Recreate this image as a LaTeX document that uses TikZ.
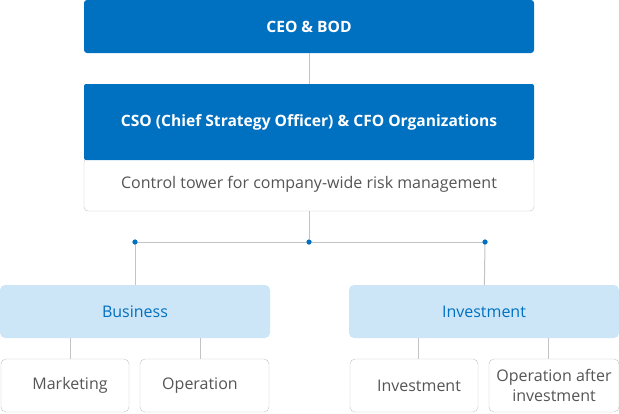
\documentclass[tikz,border=0pt]{standalone}
\usepackage{fontspec}
\setmainfont{Open Sans}
\usetikzlibrary{positioning}
\definecolor{orgblue}{RGB}{0,112,192}
\definecolor{orglight}{RGB}{204,230,247}
\definecolor{orggray}{RGB}{195,195,195}
\definecolor{orgtext}{RGB}{85,85,85}

\begin{document}
\begin{tikzpicture}[x=1pt, y=-1pt,
  every node/.style={font=\fontsize{16}{19}\selectfont},
  head/.style={rectangle, fill=orgblue, text=white,
               font=\bfseries\fontsize{15.6}{18}\selectfont, minimum width=450pt,
               minimum height=53pt, rounded corners=3pt, inner sep=0pt},
  note/.style={rectangle, draw=orggray, fill=white, text=orgtext,
               minimum width=450pt, minimum height=53pt,
               rounded corners=4pt, inner sep=0pt},
  unit/.style={rectangle, fill=orglight, text=orgblue, minimum width=270pt,
               minimum height=53pt, rounded corners=5pt, inner sep=0pt},
  leaf/.style={rectangle, draw=orggray, fill=white, text=orgtext,
               minimum width=128pt, minimum height=53pt, align=center,
               rounded corners=5pt, inner sep=0pt,
               font=\fontsize{16}{20}\selectfont},
  link/.style={draw=orggray, line width=1pt},
  dot/.style={circle, fill=orgblue, minimum size=5pt, inner sep=0pt},
]
\useasboundingbox (0,0) rectangle (619,413);

% Top management
\node[head] (ceo)  at (309,26.5) {CEO \& BOD};
\node[note] (ctrl) at (309,184.5) {Control tower for company-wide risk management};
\node[head, minimum height=76pt, rounded corners=2pt] (cso) at (309,122)
     {CSO (Chief Strategy Officer) \& CFO Organizations};

% Junctions
\node[dot] (jc) at (309,242) {};
\node[dot] (jl) at (135,242) {};
\node[dot] (jr) at (485,242) {};

% Divisions
\node[unit] (bus) at (135,311.5) {Business};
\node[unit] (inv) at (484,311.5) {Investment};

% Functions
\node[leaf]                      (mkt)  at (65,385.5)    {\hspace*{10pt}Marketing};
\node[leaf, minimum width=129pt] (ops)  at (204.5,385.5) {Operation\hspace*{9pt}};
\node[leaf]                      (invf) at (414,385.5)   {\hspace*{10pt}Investment};
\node[leaf, minimum width=130pt] (post) at (554,385.5)   {Operation after\\investment};

% ── Management links ──
\draw[link] (ceo) -- (cso);
\draw[link] (ctrl) -- (jc);
\draw[link] (jl) -- (jr);
\draw[link] (jl) -- (bus);
\draw[link] (jr) -- (inv);
\node[dot] at (jc) {};
\node[dot] at (jl) {};
\node[dot] at (jr) {};

% ── Division links ──
\draw[link] ([xshift=-65pt]bus.south) -- ([xshift=-65pt]bus.south |- mkt.north);
\draw[link] ([xshift=65pt]bus.south)  -- ([xshift=65pt]bus.south |- ops.north);
\draw[link] ([xshift=-66pt]inv.south) -- ([xshift=-66pt]inv.south |- invf.north);
\draw[link] ([xshift=64pt]inv.south)  -- ([xshift=64pt]inv.south |- post.north);

\end{tikzpicture}
\end{document}
